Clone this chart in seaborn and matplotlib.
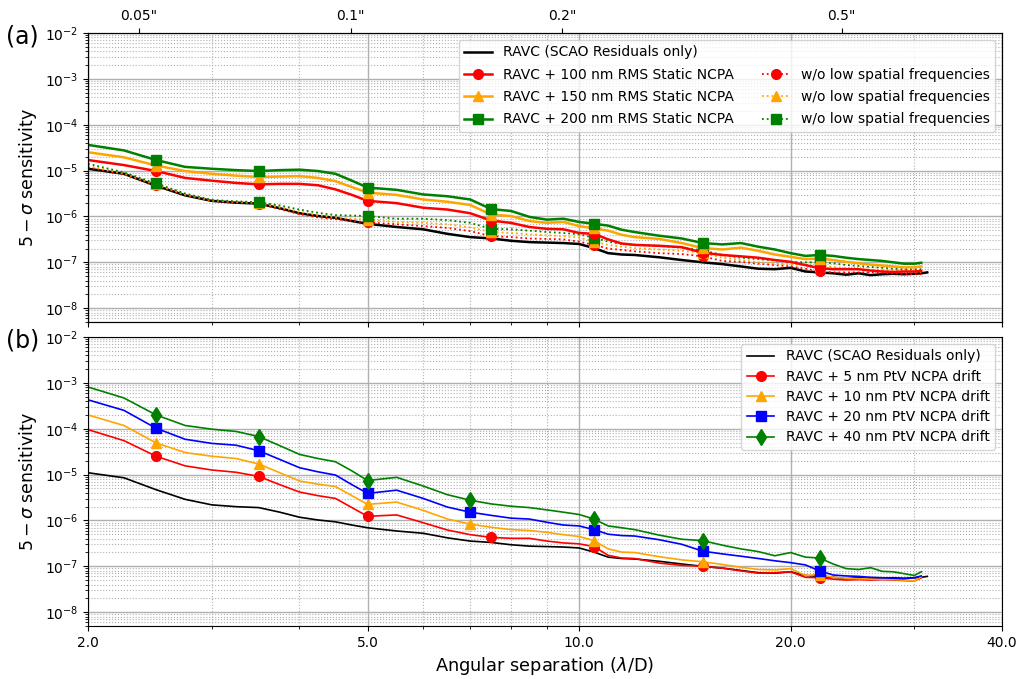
import numpy as np
import matplotlib
matplotlib.use("Agg")
import matplotlib.pyplot as plt
import seaborn as sns
from matplotlib.ticker import FixedLocator, NullFormatter, NullLocator
from matplotlib.lines import Line2D

# ---------------- data (stored as log10) ----------------
sep = [2.0, 2.25, 2.5, 2.75, 3.0, 3.25, 3.5, 3.75, 4.0, 4.25, 4.5, 4.75,
       5.0, 5.5, 6.0, 6.5, 7.0, 7.5, 8.0, 8.5, 9.0, 9.5,
       10, 10.5, 11, 11.5, 12,
       13, 14, 15, 16, 17, 18, 19, 20, 21, 22, 23, 24, 25, 26, 27, 28, 29, 30,
       30.7]
sep_black = sep + [31.3]

log_scao = [-4.96, -5.07, -5.33, -5.54, -5.66, -5.70, -5.72, -5.82, -5.93, -5.99, -6.03, -6.10,
            -6.16, -6.23, -6.28, -6.38, -6.45, -6.48, -6.53, -6.56, -6.57, -6.58,
            -6.60, -6.69, -6.80, -6.83, -6.84,
            -6.89, -6.95, -7.00, -7.04, -7.09, -7.14, -7.15, -7.12, -7.20, -7.22, -7.24, -7.27, -7.24, -7.28, -7.26, -7.25, -7.26, -7.25,
            -7.24, -7.22]

# panel (a): static NCPA
log_static100 = [-4.77, -4.88, -5.01, -5.16, -5.22, -5.27, -5.30, -5.29, -5.29, -5.32, -5.41, -5.53,
                 -5.66, -5.71, -5.81, -5.85, -5.93, -6.09, -6.14, -6.23, -6.27, -6.28,
                 -6.36, -6.38, -6.50, -6.59, -6.62,
                 -6.64, -6.67, -6.79, -6.84, -6.87, -6.90, -6.95, -6.99, -7.06, -7.13, -7.15, -7.15, -7.15, -7.18, -7.20, -7.21, -7.20, -7.20,
                 -7.19]
log_static150 = [-4.60, -4.71, -4.89, -5.01, -5.07, -5.11, -5.14, -5.13, -5.12, -5.16, -5.23, -5.36,
                 -5.48, -5.53, -5.63, -5.68, -5.75, -5.96, -5.99, -6.10, -6.14, -6.12,
                 -6.21, -6.26, -6.31, -6.40, -6.45,
                 -6.49, -6.58, -6.69, -6.72, -6.68, -6.75, -6.83, -6.88, -6.93, -6.92, -6.95, -6.99, -7.02, -7.05, -7.07, -7.09, -7.11, -7.11,
                 -7.09]
log_static200 = [-4.44, -4.56, -4.77, -4.92, -4.96, -4.99, -5.01, -4.99, -4.98, -5.01, -5.07, -5.22,
                 -5.37, -5.42, -5.52, -5.56, -5.63, -5.84, -5.88, -6.01, -6.07, -6.05,
                 -6.12, -6.16, -6.20, -6.29, -6.34,
                 -6.42, -6.48, -6.58, -6.61, -6.58, -6.66, -6.72, -6.80, -6.86, -6.84, -6.86, -6.90, -6.93, -6.95, -6.97, -7.00, -7.03, -7.03,
                 -7.01]
log_nolsf100 = [-4.93, -5.08, -5.32, -5.53, -5.66, -5.70, -5.72, -5.84, -5.95, -6.02, -6.06, -6.10,
                -6.13, -6.17, -6.21, -6.25, -6.32, -6.43, -6.45, -6.48, -6.49, -6.50,
                -6.55, -6.62, -6.70, -6.73, -6.76,
                -6.80, -6.82, -6.87, -6.97, -6.99, -7.03, -7.06, -7.09, -7.14, -7.20, -7.22, -7.22, -7.22, -7.22, -7.23, -7.24, -7.25, -7.26,
                -7.26]
log_nolsf150 = [-4.90, -5.06, -5.30, -5.52, -5.65, -5.68, -5.70, -5.80, -5.90, -5.97, -6.02, -6.05,
                -6.07, -6.12, -6.14, -6.17, -6.24, -6.34, -6.36, -6.39, -6.41, -6.43,
                -6.46, -6.55, -6.62, -6.66, -6.69,
                -6.72, -6.75, -6.79, -6.90, -6.95, -7.00, -7.03, -7.04, -7.06, -7.08, -7.10, -7.13, -7.15, -7.16, -7.17, -7.18, -7.19, -7.20,
                -7.21]
log_nolsf200 = [-4.85, -5.04, -5.28, -5.50, -5.64, -5.67, -5.69, -5.76, -5.85, -5.92, -5.97, -5.98,
                -5.99, -6.05, -6.05, -6.08, -6.14, -6.27, -6.28, -6.31, -6.34, -6.36,
                -6.39, -6.46, -6.55, -6.60, -6.62,
                -6.64, -6.68, -6.74, -6.84, -6.90, -6.93, -6.96, -6.99, -7.00, -7.00, -7.02, -7.06, -7.08, -7.10, -7.12, -7.14, -7.15, -7.15,
                -7.15]

# panel (b): NCPA drift
log_drift5 = [-4.02, -4.26, -4.60, -4.81, -4.90, -4.95, -5.04, -5.22, -5.38, -5.46, -5.52, -5.72,
              -5.91, -5.88, -6.05, -6.21, -6.31, -6.37, -6.39, -6.39, -6.45, -6.49,
              -6.51, -6.57, -6.76, -6.82, -6.83,
              -6.93, -6.98, -7.00, -7.04, -7.10, -7.15, -7.14, -7.12, -7.24, -7.25, -7.28, -7.30, -7.29, -7.30, -7.29, -7.30, -7.31, -7.32,
              -7.25]
log_drift10 = [-3.70, -3.93, -4.31, -4.52, -4.60, -4.65, -4.77, -4.96, -5.14, -5.21, -5.26, -5.46,
               -5.65, -5.60, -5.78, -5.97, -6.08, -6.15, -6.20, -6.22, -6.26, -6.31,
               -6.35, -6.44, -6.62, -6.69, -6.70,
               -6.79, -6.86, -6.90, -6.96, -7.02, -7.07, -7.08, -7.05, -7.20, -7.18, -7.24, -7.26, -7.27, -7.28, -7.28, -7.29, -7.30, -7.32,
               -7.23]
log_drift20 = [-3.37, -3.60, -3.99, -4.23, -4.32, -4.36, -4.48, -4.67, -4.85, -4.94, -5.01, -5.22,
               -5.41, -5.34, -5.52, -5.71, -5.82, -5.89, -5.95, -5.97, -6.04, -6.10,
               -6.12, -6.20, -6.30, -6.33, -6.34,
               -6.42, -6.52, -6.67, -6.73, -6.78, -6.83, -6.88, -6.92, -6.97, -7.10, -7.19, -7.21, -7.22, -7.24, -7.25, -7.26, -7.27, -7.25,
               -7.21]
log_drift40 = [-3.09, -3.33, -3.70, -3.93, -4.01, -4.06, -4.17, -4.37, -4.56, -4.65, -4.72, -4.92,
               -5.13, -5.06, -5.25, -5.44, -5.56, -5.64, -5.69, -5.72, -5.77, -5.82,
               -5.87, -5.97, -6.12, -6.16, -6.20,
               -6.32, -6.41, -6.44, -6.54, -6.62, -6.68, -6.77, -6.70, -6.80, -6.82, -6.95, -7.05, -7.07, -7.03, -7.11, -7.12, -7.16, -7.20,
               -7.12]

label_scao = "RAVC (SCAO Residuals only)"
labels_static = ["RAVC + 100 nm RMS Static NCPA", "RAVC + 150 nm RMS Static NCPA",
                 "RAVC + 200 nm RMS Static NCPA"]
label_nolsf = "w/o low spatial frequencies"
labels_drift = ["RAVC + 5 nm PtV NCPA drift", "RAVC + 10 nm PtV NCPA drift",
                "RAVC + 20 nm PtV NCPA drift", "RAVC + 40 nm PtV NCPA drift"]

arcsec_ticks = [0.05, 0.1, 0.2, 0.5]
arcsec_labels = ['0.05"', '0.1"', '0.2"', '0.5"']
lambda_over_d = 0.02115  # arcsec per lambda/D

x_major = [2, 5, 10, 20, 40]
x_major_labels = ["2.0", "5.0", "10.0", "20.0", "40.0"]
x_minor = [3, 4, 6, 7, 8, 9, 30]

# ---------------- figure ----------------
plt.rcParams["font.family"] = ["DejaVu Sans"]
fig = plt.figure(figsize=(10.21, 6.79), dpi=100)
ax1 = fig.add_axes([0.0862, 0.5258, 0.8952, 0.4256])
ax2 = fig.add_axes([0.0862, 0.0781, 0.8952, 0.4256], sharex=ax1)

EVERY_A = (0.072, 0.117)
EVERY_B = (0.074, 0.119)


def draw(ax, x, logv, color, ls="-", marker=None, lw=1.5, ms=7, every=None):
    kw = {}
    if marker is not None:
        kw = dict(marker=marker, markevery=every, markersize=ms,
                  markeredgecolor=color, markeredgewidth=1.0)
    sns.lineplot(x=x, y=10 ** np.asarray(logv), ax=ax, color=color, linestyle=ls,
                 lw=lw, sort=False, estimator=None, **kw)


# panel (a)
draw(ax1, sep_black, log_scao, "black", lw=1.8)
for lv, c, m in zip([log_nolsf100, log_nolsf150, log_nolsf200],
                    ["red", "orange", "green"], ["o", "^", "s"]):
    draw(ax1, sep, lv, c, ls=":", marker=m, lw=1.3, ms=7, every=EVERY_A)
for lv, c, m in zip([log_static100, log_static150, log_static200],
                    ["red", "orange", "green"], ["o", "^", "s"]):
    draw(ax1, sep, lv, c, marker=m, lw=1.8, ms=7, every=EVERY_A)

# panel (b)
draw(ax2, sep_black, log_scao, "black", lw=1.2)
for lv, c, m, ms in zip([log_drift5, log_drift10, log_drift20, log_drift40],
                        ["red", "orange", "blue", "green"], ["o", "^", "s", "d"],
                        [7, 7, 7, 8]):
    draw(ax2, sep, lv, c, marker=m, lw=1.2, ms=ms, every=EVERY_B)

for ax in (ax1, ax2):
    ax.set_xscale("log")
    ax.set_yscale("log")
    ax.set_xlim(2, 40)
    ax.set_ylim(5e-9, 1e-2)
    ax.xaxis.set_major_locator(FixedLocator(x_major))
    ax.set_xticklabels(x_major_labels)
    ax.xaxis.set_minor_locator(FixedLocator(x_minor))
    ax.xaxis.set_minor_formatter(NullFormatter())
    ax.grid(True, which="major", color="#b0b0b0", lw=1.0, ls="-")
    ax.grid(True, which="minor", color="#b0b0b0", lw=0.8, ls=":")
    ax.set_axisbelow(True)
    ax.tick_params(labelsize=10)
    ax.set_ylabel(r"$5 - \sigma$ sensitivity", fontsize=12.5)

ax1.tick_params(labelbottom=False)
ax2.set_xlabel(r"Angular separation ($\lambda$/D)", fontsize=12.8)

# top arcsec axis
axt = ax1.twiny()
axt.set_xscale("log")
axt.set_xlim(2, 40)
axt.xaxis.set_major_locator(FixedLocator([a / lambda_over_d for a in arcsec_ticks]))
axt.set_xticklabels(arcsec_labels)
axt.xaxis.set_minor_locator(NullLocator())
axt.tick_params(labelsize=10)

# legends
h_a = [Line2D([], [], color="black", lw=1.8)]
for c, m in zip(["red", "orange", "green"], ["o", "^", "s"]):
    h_a.append(Line2D([], [], color=c, lw=1.8, marker=m, ms=7))
h_a.append(Line2D([], [], linestyle="none"))
for c, m in zip(["red", "orange", "green"], ["o", "^", "s"]):
    h_a.append(Line2D([], [], color=c, lw=1.3, ls=":", marker=m, ms=7))
l_a = [label_scao] + labels_static + [""] + [label_nolsf] * 3
ax1.legend(h_a, l_a, ncol=2, loc="upper right", fontsize=10, labelspacing=0.6)

h_b = [Line2D([], [], color="black", lw=1.2)]
for c, m, ms in zip(["red", "orange", "blue", "green"], ["o", "^", "s", "d"], [7, 7, 7, 8]):
    h_b.append(Line2D([], [], color=c, lw=1.2, marker=m, ms=ms))
ax2.legend(h_b, [label_scao] + labels_drift, loc="upper right", fontsize=10,
           labelspacing=0.45)

fig.text(0.022, 0.946, "(a)", ha="center", va="center", fontsize=17)
fig.text(0.022, 0.499, "(b)", ha="center", va="center", fontsize=17)

fig.savefig("out.png", dpi=100)
